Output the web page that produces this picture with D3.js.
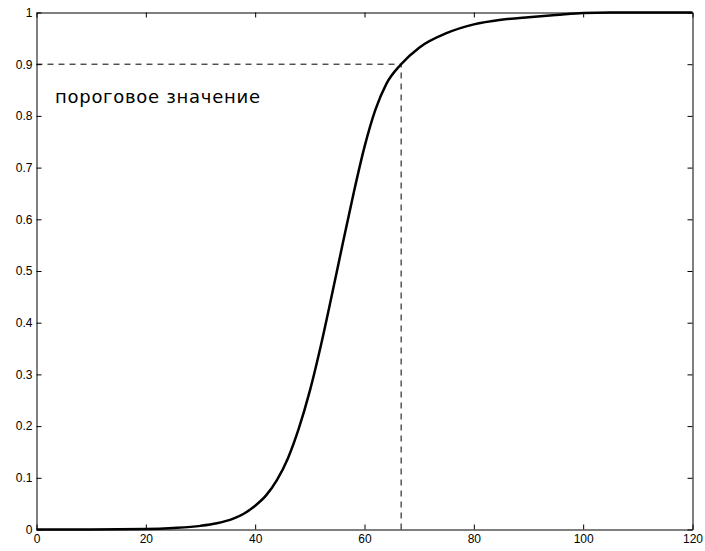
<!DOCTYPE html>
<html>
<head>
<meta charset="utf-8">
<script src="https://cdn.jsdelivr.net/npm/d3@7"></script>
<style>
    body { margin: 0; background: #fff; }
    .axis text { font-family: "Liberation Sans", Arial, sans-serif; font-size: 12px; fill: #000; }
    .axis path, .axis line { stroke: #000; }
</style>
</head>
<body>
<div id="chart"></div>
<script>
// curve values
let xValues = [0, 10, 20, 25, 30, 33, 36, 38, 40, 42, 44, 46, 48, 50, 52, 54, 56, 58, 60, 62, 64, 66.7, 70, 75, 80, 85, 90, 95, 100, 105, 120];
let yValues = [0, 0, 0.001, 0.003, 0.007, 0.012, 0.021, 0.031, 0.046, 0.066, 0.096, 0.138, 0.196, 0.268, 0.355, 0.452, 0.552, 0.65, 0.74, 0.812, 0.862, 0.9, 0.932, 0.96, 0.977, 0.986, 0.991, 0.995, 0.999, 1, 1];
let xTicks = [0, 20, 40, 60, 80, 100, 120];
let yTicks = [0, 0.1, 0.2, 0.3, 0.4, 0.5, 0.6, 0.7, 0.8, 0.9, 1];
let threshold = {x: 66.7, y: 0.9};
let label = "пороговое значение";

let width = 705, height = 551;
let margin = {top: 12.5, right: 12.5, bottom: 21.5, left: 36.5};

let svg = d3.select("#chart").append("svg")
    .attr("width", width)
    .attr("height", height);

let x = d3.scaleLinear().domain([0, 120]).range([margin.left, width - margin.right]);
let y = d3.scaleLinear().domain([0, 1]).range([height - margin.bottom, margin.top]);

let fmt = d => d3.format("~g")(d);

// axes, ticks pointing inward on all four sides
svg.append("g")
    .attr("class", "axis")
    .attr("transform", "translate(0," + y(0) + ")")
    .call(d3.axisBottom(x).tickValues(xTicks).tickFormat(fmt).tickSizeInner(-5).tickSizeOuter(0).tickPadding(5));

svg.append("g")
    .attr("class", "axis")
    .attr("transform", "translate(0," + y(1) + ")")
    .call(d3.axisTop(x).tickValues(xTicks).tickFormat("").tickSizeInner(-5).tickSizeOuter(0));

svg.append("g")
    .attr("class", "axis")
    .attr("transform", "translate(" + x(0) + ",0)")
    .call(d3.axisLeft(y).tickValues(yTicks).tickFormat(fmt).tickSizeInner(-5).tickSizeOuter(0).tickPadding(4));

svg.append("g")
    .attr("class", "axis")
    .attr("transform", "translate(" + x(120) + ",0)")
    .call(d3.axisRight(y).tickValues(yTicks).tickFormat("").tickSizeInner(-5).tickSizeOuter(0));

// dashed threshold guides
svg.append("line")
    .attr("x1", x(0)).attr("y1", y(threshold.y))
    .attr("x2", x(threshold.x)).attr("y2", y(threshold.y))
    .attr("stroke", "#000").attr("stroke-width", 1)
    .attr("stroke-dasharray", "6,5");

svg.append("line")
    .attr("x1", x(threshold.x)).attr("y1", y(0))
    .attr("x2", x(threshold.x)).attr("y2", y(threshold.y))
    .attr("stroke", "#000").attr("stroke-width", 1)
    .attr("stroke-dasharray", "6,5");

// curve
let pts = xValues.map((d, i) => [d, yValues[i]]);
svg.append("path")
    .datum(pts)
    .attr("fill", "none")
    .attr("stroke", "#000")
    .attr("stroke-width", 2.5)
    .attr("d", d3.line()
        .x(d => x(d[0]))
        .y(d => y(d[1]))
        .curve(d3.curveMonotoneX));

svg.append("text")
    .attr("x", 55)
    .attr("y", 103)
    .attr("font-family", "DejaVu Sans, sans-serif")
    .attr("font-size", 18)
    .attr("textLength", 205)
    .attr("lengthAdjust", "spacing")
    .text(label);
</script>
</body>
</html>
